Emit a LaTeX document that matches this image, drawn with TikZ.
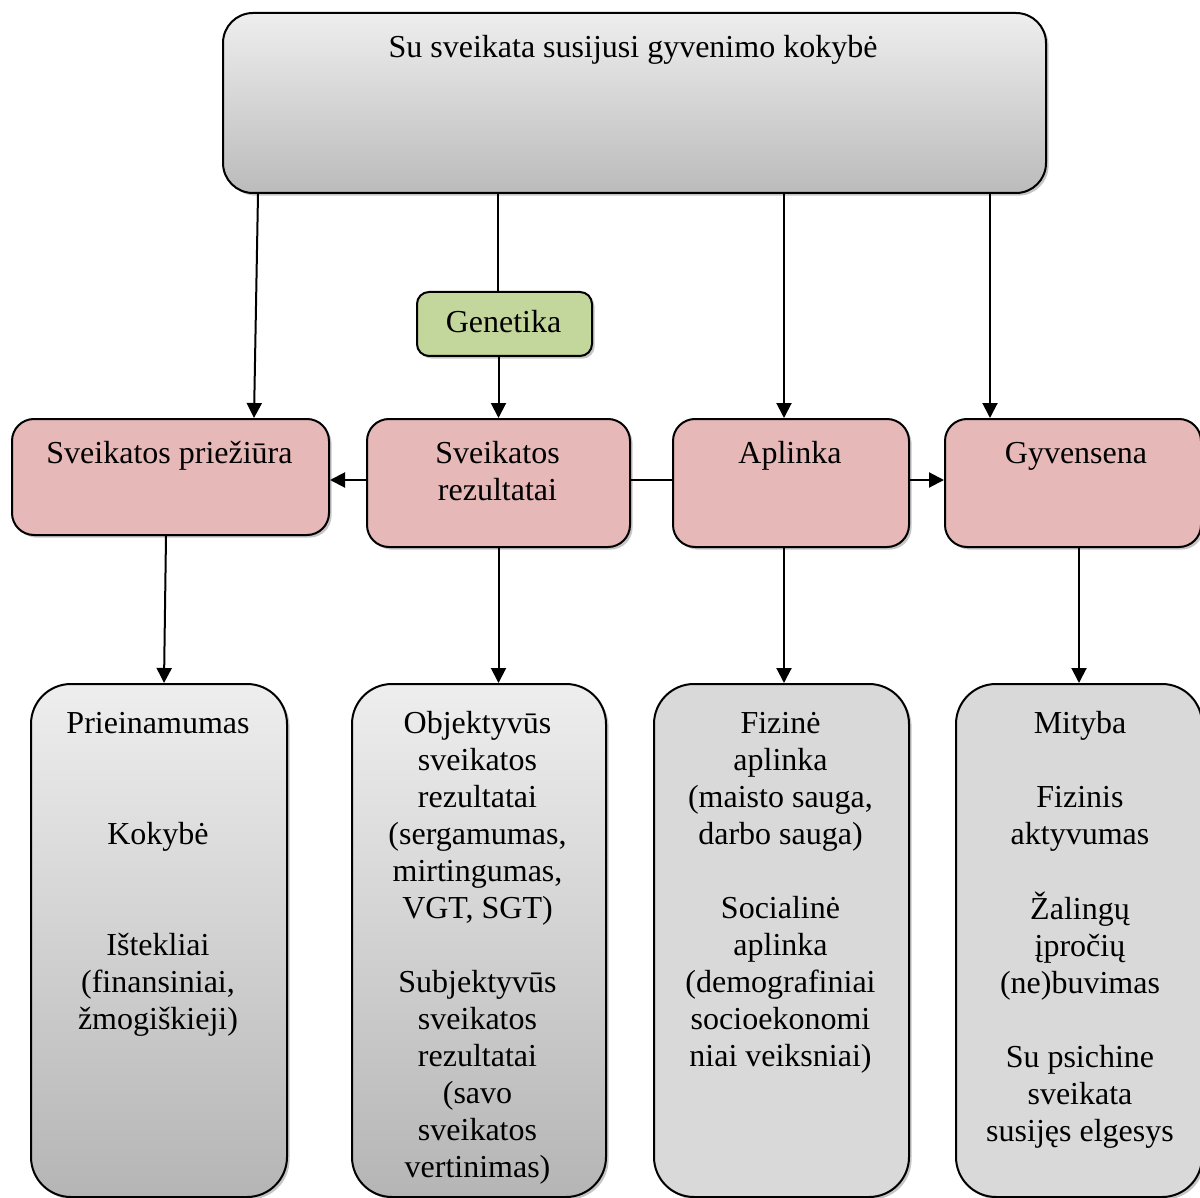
\documentclass[tikz,border=0pt]{standalone}
\usepackage{fontspec}
\setmainfont{Liberation Serif}
\usetikzlibrary{shadows,arrows.meta}
\definecolor{pinkc}{HTML}{E6B8B7}
\definecolor{greenc}{HTML}{C3D69B}
\definecolor{grayc}{HTML}{D9D9D9}
\definecolor{gtop}{HTML}{EEEEEE}
\definecolor{gbot}{HTML}{BBBBBB}
\newcommand\tblock[1]{\begin{tabular}[t]{@{}c@{}}#1\end{tabular}}
\tikzset{
  boxbase/.style={draw=black, line width=1pt, anchor=north west, inner sep=0pt,
    drop shadow={shadow xshift=1.3pt, shadow yshift=-1.3pt, fill=black!45}},
  topbox/.style={boxbase, rounded corners=15pt, top color=gtop, bottom color=gbot},
  genbox/.style={boxbase, rounded corners=6pt, fill=greenc},
  pinkbox/.style={boxbase, rounded corners=11pt, fill=pinkc, minimum height=64pt},
  gradbox/.style={boxbase, rounded corners=20pt, top color=gtop, bottom color=black!29, minimum height=256.5pt},
  flatbox/.style={boxbase, rounded corners=20pt, fill=grayc, minimum height=256.5pt},
  txt/.style={anchor=base, inner sep=0pt, font=\fontsize{16}{18.5}\selectfont},
  arr/.style={line width=1pt, -{Triangle[width=7.5pt,length=7.5pt]}},
  ln/.style={line width=1pt}
}
\begin{document}
\begin{tikzpicture}[x=0.5pt,y=-0.5pt]
\useasboundingbox (0,0) rectangle (1200,1198);
\clip (0,0) rectangle (1200,1198);
% boxes
\node[topbox, minimum width=411.5pt, minimum height=90pt] (top) at (222,12) {};
\node[genbox, minimum width=87.5pt, minimum height=32pt] (gen) at (416,291) {};
\node[pinkbox, minimum width=158.5pt, minimum height=58pt] (prz) at (11,418) {};
\node[pinkbox, minimum width=131.5pt] (rez) at (366,418) {};
\node[pinkbox, minimum width=118pt] (apl) at (672,418) {};
\node[pinkbox, minimum width=128pt] (gyv) at (944,418) {};
\node[gradbox, minimum width=128pt] (b1) at (30,683) {};
\node[gradbox, minimum width=127pt] (b2) at (351,683) {};
\node[flatbox, minimum width=127.5pt] (b3) at (653,683) {};
\node[flatbox, minimum width=123pt] (b4) at (955,683) {};
% texts
\node[txt] (ttop) at (633,58) {Su sveikata susijusi gyvenimo kokybė};
\node[txt] (tgen) at (503.5,333) {Genetika};
\node[txt] (tprz) at (169.5,463) {Sveikatos priežiūra};
\node[txt] (trez) at (497.5,463) {\tblock{Sveikatos\\rezultatai}};
\node[txt] (tapl) at (790,463) {Aplinka};
\node[txt] (tgyv) at (1076,463) {Gyvensena};
\node[txt] (tb1) at (158,733) {\tblock{Prieinamumas\\[37pt]Kokybė\\[37pt]Ištekliai\\(finansiniai,\\žmogiškieji)}};
\node[txt] (tb2) at (477.5,733) {\tblock{Objektyvūs\\sveikatos\\rezultatai\\(sergamumas,\\mirtingumas,\\VGT, SGT)\\[18.5pt]Subjektyvūs\\sveikatos\\rezultatai\\(savo\\sveikatos\\vertinimas)}};
\node[txt] (tb3) at (780.5,733) {\tblock{Fizinė\\aplinka\\(maisto sauga,\\darbo sauga)\\[18.5pt]Socialinė\\aplinka\\(demografiniai\\socioekonomi\\niai veiksniai)}};
\node[txt] (tb4) at (1080,733) {\tblock{Mityba\\[18.5pt]Fizinis\\aktyvumas\\[18.5pt]Žalingų\\įpročių\\(ne)buvimas\\[18.5pt]Su psichine\\sveikata\\susijęs elgesys}};
% connectors
\draw[arr] ([xshift=18pt]top.south west) -- ([xshift=121.5pt]prz.north west);
\draw[ln] ([xshift=-3.25pt]gen.north) -- ([xshift=-3.25pt]gen.north |- top.south);
\draw[arr] (gen.south -| rez.north) -- (rez.north);
\draw[arr] ([xshift=-3.5pt]apl.north |- top.south) -- ([xshift=-3.5pt]apl.north);
\draw[arr] ([xshift=23pt]gyv.north west |- top.south) -- ([xshift=23pt]gyv.north west);
\draw[arr] ([yshift=1.5pt]rez.west) -- ([yshift=-1.5pt]prz.east);
\draw[ln] ([yshift=1.5pt]rez.east) -- ([yshift=1.5pt]apl.west);
\draw[arr] ([yshift=1.5pt]apl.east) -- ([yshift=1.5pt]gyv.west);
\draw[arr] ([xshift=-2.25pt]prz.south) -- ([xshift=2.5pt]b1.north);
\draw[arr] (rez.south) -- (rez.south |- b2.north);
\draw[arr] ([xshift=-3.5pt]apl.south) -- ([xshift=-3.5pt]apl.south |- b3.north);
\draw[arr] (b4.north |- gyv.south) -- (b4.north);
\end{tikzpicture}
\end{document}
